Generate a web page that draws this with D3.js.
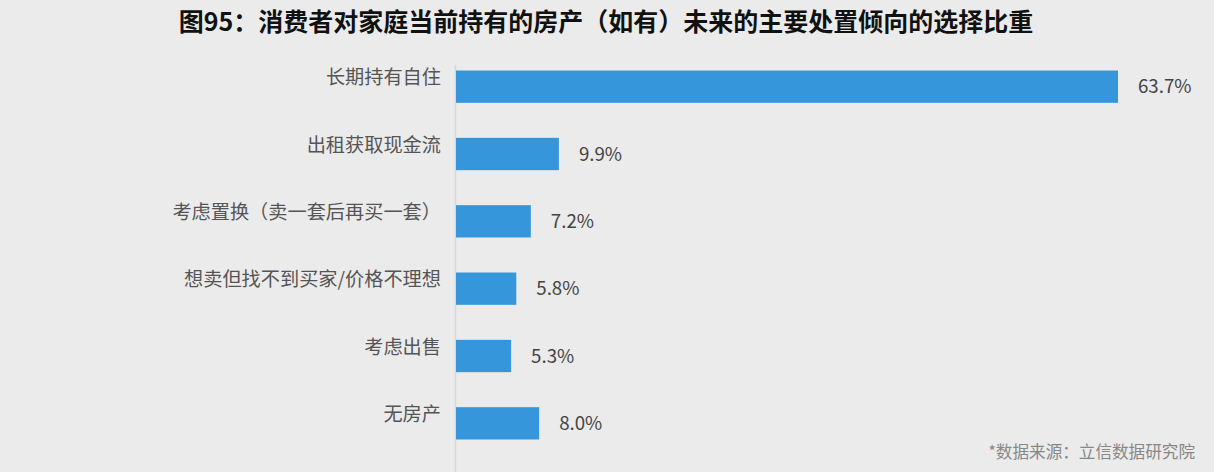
<!DOCTYPE html>
<html><head><meta charset="utf-8">
<script src="https://cdn.jsdelivr.net/npm/d3@7"></script>
<style>
html,body{margin:0;padding:0;background:#ebebeb;}
svg{display:block;font-family:"Noto Sans CJK SC","Noto Sans",sans-serif;}
</style></head>
<body><svg id="c" width="1214" height="472"></svg>
<script>
const categories = ["长期持有自住","出租获取现金流","考虑置换（卖一套后再买一套）","想卖但找不到买家/价格不理想","考虑出售","无房产"];
const values = [63.7, 9.9, 7.2, 5.8, 5.3, 8.0];
const valueLabels = ["63.7%","9.9%","7.2%","5.8%","5.3%","8.0%"];
const title = "图95：消费者对家庭当前持有的房产（如有）未来的主要处置倾向的选择比重";
const source = "*数据来源：立信数据研究院";

const svg = d3.select("#c");
const W = 1214, H = 472;
svg.append("rect").attr("width",W).attr("height",H).attr("fill","#ebebeb");

const x0 = 456;
const x = d3.scaleLinear().domain([0, 63.7]).range([x0, 1118]);
const y = d3.scaleBand().domain(categories).range([53, 457]).paddingInner(0.52).paddingOuter(0.26);

svg.append("text").attr("x", 606).attr("y", 31).attr("text-anchor","middle")
  .attr("font-size", 25).attr("font-weight", 700).attr("fill","#111").text(title);

svg.append("line").attr("x1", x0-0.5).attr("x2", x0-0.5).attr("y1", 65).attr("y2", H)
  .attr("stroke","#d6d6d6").attr("stroke-width",1.5);

svg.selectAll("rect.bar").data(values).join("rect").attr("class","bar")
  .attr("x", x0).attr("y", (d,i)=>y(categories[i]))
  .attr("width", d=>x(d)-x0).attr("height", y.bandwidth()).attr("fill","#3596db");

svg.selectAll("text.cat").data(categories).join("text").attr("class","cat")
  .attr("x", 441).attr("y", d=>y(d)+y.bandwidth()/2-9).attr("dy","0.35em")
  .attr("text-anchor","end").attr("font-size",19.2).attr("fill","#555").text(d=>d);

svg.selectAll("text.val").data(values).join("text").attr("class","val")
  .attr("x", d=>x(d)+20).attr("y", (d,i)=>y(categories[i])+y.bandwidth()/2).attr("dy","0.35em")
  .attr("font-size",18.7).attr("fill","#444").text((d,i)=>valueLabels[i]);

svg.append("text").attr("x", 1195).attr("y", 458).attr("text-anchor","end")
  .attr("font-size",16.6).attr("fill","#888").text(source);
</script></body></html>
